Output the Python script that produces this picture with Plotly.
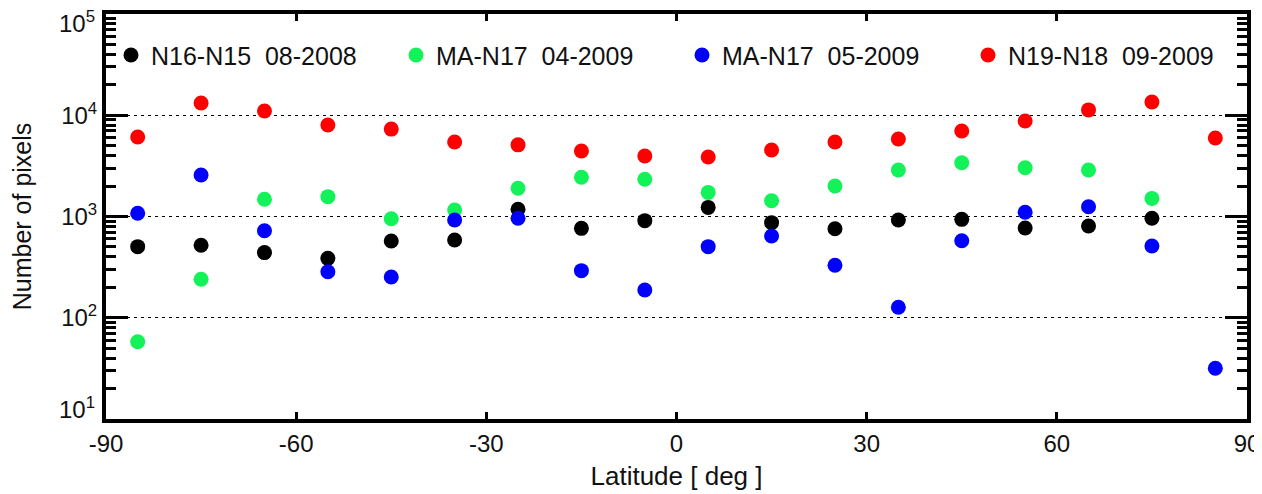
import plotly.graph_objects as go

latitude = [-85, -75, -65, -55, -45, -35, -25, -15, -5, 5, 15, 25, 35, 45, 55, 65, 75, 85]

n16_n15 = [504, 520, 440, 386, 573, 586, 1180, 764, 910, 1230, 869, 758, 922, 937, 769, 805, 960, None]
ma_n17_04 = [58, 240, 1480, 1570, 951, 1160, 1900, 2440, 2330, 1730, 1430, 2000, 2880, 3400, 3030, 2880, 1510, None]
ma_n17_05 = [1077, 2570, 724, 285, 253, 922, 960, 292, 188, 504, 642, 330, 127, 576, 1100, 1250, 512, 31.7]
n19_n18 = [6100, 13200, 11000, 8000, 7300, 5450, 5100, 4430, 3960, 3870, 4540, 5450, 5820, 6990, 8770, 11300, 13500, 5960]

NB = "\u00a0"
series_names = ["N16-N15" + NB * 2 + "08-2008", "MA-N17" + NB * 2 + "04-2009",
                "MA-N17" + NB * 2 + "05-2009", "N19-N18" + NB * 2 + "09-2009"]
series_values = [n16_n15, ma_n17_04, ma_n17_05, n19_n18]
series_colors = ["#000000", "#14f25a", "#0000ff", "#ff0000"]

x_ticks = [-90, -60, -30, 0, 30, 60, 90]
y_exponents = [1, 2, 3, 4, 5]
y_inner_tickvals = [10 ** e for e in y_exponents[1:-1]]
y_inner_ticktext = ["10<sup>%d</sup>" % e for e in y_exponents[1:-1]]

FONT = "Liberation Sans, Arial, Helvetica, sans-serif"
# page body has an 8px margin; figure sized so the plot lands where the reference has it
W, H = 1254, 486
ML, MR, MT, MB = 98, 15, 6, 75
plot_w = W - ML - MR

legend_ids = ["legend", "legend2", "legend3", "legend4"]
marker_screen_x = [132, 417, 703, 989]

fig = go.Figure()
for name, vals, col, lid in zip(series_names, series_values, series_colors, legend_ids):
    fig.add_trace(go.Scatter(
        x=latitude, y=vals, mode="markers", name=name, legend=lid,
        marker=dict(color=col, size=15, line=dict(width=0)),
    ))

layout_legends = {}
for lid, mx in zip(legend_ids, marker_screen_x):
    layout_legends[lid] = dict(
        orientation="h", x=(mx - 8 - 21 - ML) / plot_w, y=0.955, xanchor="left", yanchor="top",
        itemwidth=30, font=dict(family=FONT, size=25, color="#111111"),
        bgcolor="rgba(0,0,0,0)",
    )

# edge decade labels (10^1, 10^5) are nudged inside the frame, as in the reference
edge_labels = []
for e, shift in ((y_exponents[0], 11), (y_exponents[-1], -8)):
    edge_labels.append(dict(
        text="10<sup>%d</sup>" % e, xref="paper", yref="y", x=-9 / plot_w, y=e,
        xanchor="right", yanchor="middle", yshift=shift, showarrow=False,
        font=dict(family=FONT, size=24, color="#111111"),
    ))

fig.update_layout(
    width=W, height=H,
    paper_bgcolor="white", plot_bgcolor="white",
    margin=dict(l=ML, r=MR, t=MT, b=MB),
    font=dict(family=FONT, size=24, color="#111111"),
    showlegend=True,
    annotations=edge_labels,
    **layout_legends,
)

fig.update_xaxes(
    range=[-90, 90], tickvals=x_ticks, ticktext=[str(v) for v in x_ticks],
    showline=True, linecolor="black", linewidth=4, mirror="allticks",
    ticks="inside", ticklen=7, tickwidth=3, tickcolor="black",
    showgrid=False, zeroline=False, ticklabeloverflow="allow", automargin=False,
    title=dict(text="Latitude [ deg ]", standoff=12, font=dict(size=26)),
    tickfont=dict(size=24),
)

fig.update_yaxes(
    type="log", range=[1, 5],
    tickvals=y_inner_tickvals, ticktext=y_inner_ticktext,
    showline=True, linecolor="black", linewidth=4, mirror="allticks",
    ticks="inside", ticklen=22, tickwidth=3, tickcolor="black",
    showgrid=True, gridcolor="black", gridwidth=1, griddash="3px,4px",
    minor=dict(ticks="inside", ticklen=10, tickwidth=3, tickcolor="black",
               dtick="D1", showgrid=False),
    zeroline=False, ticklabeloverflow="allow", automargin=False,
    title=dict(text="Number of pixels", standoff=23, font=dict(size=25)),
    tickfont=dict(size=24),
)

fig.write_html("out.html")
